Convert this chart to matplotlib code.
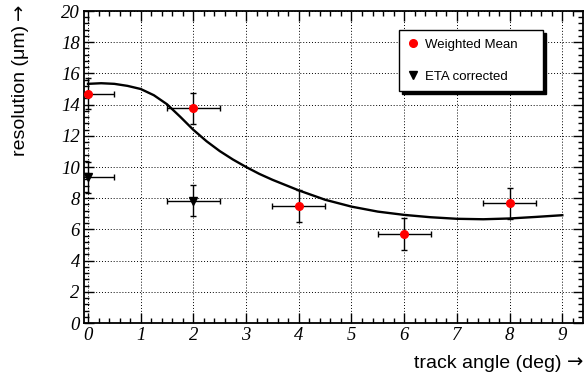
import matplotlib
matplotlib.use("Agg")
import matplotlib.pyplot as plt
from matplotlib.lines import Line2D
from matplotlib.ticker import MultipleLocator

# measured points
wm_x = [0, 2, 4, 6, 8]
wm_y = [14.7, 13.75, 7.5, 5.7, 7.68]
wm_yerr = [1.0, 1.0, 1.0, 1.0, 1.0]
wm_xerr = [0.5, 0.5, 0.5, 0.5, 0.5]

eta_x = [0, 2]
eta_y = [9.35, 7.85]
eta_yerr = [1.0, 1.0]
eta_xerr = [0.5, 0.5]

# fit curve
fit_x = [0, 0.25, 0.5, 0.75, 1.0, 1.25, 1.5, 1.75, 2.0, 2.25, 2.5, 2.75, 3.0,
         3.25, 3.5, 4.0, 4.5, 5.0, 5.5, 6.0, 6.5, 7.0, 7.5, 8.0, 8.5, 9.0]
fit_y = [15.33, 15.37, 15.33, 15.2, 15.0, 14.6, 14.02, 13.22, 12.38, 11.65,
         11.02, 10.48, 10.0, 9.56, 9.18, 8.5, 7.9, 7.46, 7.14, 6.93, 6.78,
         6.68, 6.65, 6.7, 6.8, 6.91]

# tick labels in italic serif (ROOT look), everything else set explicitly
plt.rcParams['font.family'] = 'Liberation Serif'
plt.rcParams['font.style'] = 'italic'
plt.rcParams['font.size'] = 13.5
sans = ['Liberation Sans', 'DejaVu Sans']

W, H = 584, 373
fig = plt.figure(figsize=(W / 100, H / 100), dpi=100)
ax = fig.add_axes([84 / W, 1 - 323 / H, 499 / W, 312 / H])

ax.plot(fit_x, fit_y, color='black', lw=1.7, zorder=3)

ax.errorbar(wm_x, wm_y, yerr=wm_yerr, xerr=wm_xerr, fmt='o', color='red',
            ms=5.5, ecolor='black', elinewidth=1, capsize=2, capthick=1,
            zorder=4)
ax.errorbar(eta_x, eta_y, yerr=eta_yerr, xerr=eta_xerr, fmt='v', color='black',
            ms=5.5, ecolor='black', elinewidth=1, capsize=2, capthick=1,
            zorder=4)

ax.set_xlim(-0.076, 9.393)
ax.set_ylim(0, 20)
ax.xaxis.set_major_locator(MultipleLocator(1))
ax.xaxis.set_minor_locator(MultipleLocator(0.2))
ax.yaxis.set_major_locator(MultipleLocator(2))
ax.yaxis.set_minor_locator(MultipleLocator(0.4))
ax.tick_params(which='both', direction='in', top=True, right=True, width=1)
ax.tick_params(which='major', length=7, pad=3)
ax.tick_params(which='minor', length=3.5)
for s in ax.spines.values():
    s.set_linewidth(1.3)
ax.grid(True, which='major', color='black', lw=0.7, linestyle=(0, (1, 2)))
ax.set_axisbelow(True)

handles = [Line2D([], [], marker='o', color='red', ls='none', ms=5.5),
           Line2D([], [], marker='v', color='black', ls='none', ms=5.5)]
leg = ax.legend(handles, ['Weighted Mean', 'ETA corrected'],
                loc='upper left', bbox_to_anchor=(0.631, 0.739, 0.289, 0.2),
                mode='expand', borderaxespad=0,
                prop={'family': sans, 'size': 9.5, 'style': 'normal'},
                frameon=True, fancybox=False, shadow={'color': 'black', 'alpha': 1},
                edgecolor='black', framealpha=1, handlelength=0.8,
                handletextpad=0.5, labelspacing=1.5, borderpad=0.65)
leg.get_frame().set_linewidth(1)

# axis titles: text in Liberation Sans, long arrow in DejaVu Sans
fig.canvas.draw()
r = fig.canvas.get_renderer()

xarrow = fig.text(583 / W, 1 - 368 / H, '\u2192', ha='right', va='baseline',
                  family='DejaVu Sans', style='normal', size=14)
bb = xarrow.get_window_extent(r)
fig.text((bb.x0 - 5) / W, 1 - 368 / H, 'track angle (deg)', ha='right',
         va='baseline', family=sans, style='normal', size=14)

yarrow = fig.text(25 / W, 1 - 4 / H, '\u2192', rotation=90, rotation_mode='anchor',
                  ha='right', va='baseline', family='DejaVu Sans', style='normal',
                  size=14)
bb = yarrow.get_window_extent(r)
fig.text(25 / W, (bb.y0 - 5) / H, 'resolution (\u03bcm)', rotation=90,
         rotation_mode='anchor', ha='right', va='baseline', family=sans,
         style='normal', size=14)

fig.savefig('out.png', dpi=100)
